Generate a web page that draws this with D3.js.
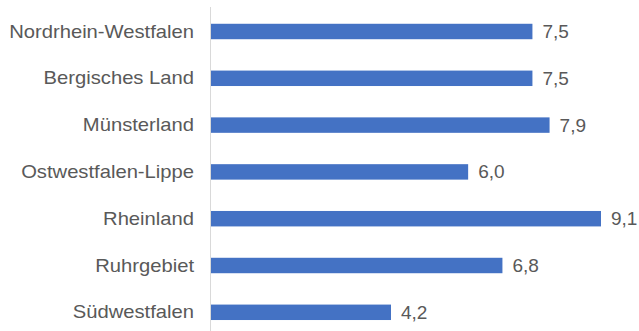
<!DOCTYPE html>
<html>
<head>
<meta charset="utf-8">
<script src="https://cdn.jsdelivr.net/npm/d3@7"></script>
<style>
  html, body { margin: 0; padding: 0; background: #fff; }
  svg { display: block; }
  text { font-family: "Liberation Sans", Arial, sans-serif; fill: #595959; }
</style>
</head>
<body>
<svg id="chart" width="639" height="331"></svg>
<script>
// Regions of North Rhine-Westphalia and their values
const regions = [
  "Nordrhein-Westfalen",
  "Bergisches Land",
  "Münsterland",
  "Ostwestfalen-Lippe",
  "Rheinland",
  "Ruhrgebiet",
  "Südwestfalen"
];
const values = [7.5, 7.5, 7.9, 6.0, 9.1, 6.8, 4.2];
const valueLabels = ["7,5", "7,5", "7,9", "6,0", "9,1", "6,8", "4,2"];

const data = regions.map((r, i) => ({ region: r, value: values[i], label: valueLabels[i] }));

const svg = d3.select("#chart");
const left = 211;

const x = d3.scaleLinear().domain([0, 9.1]).range([left, 601]);
const y = d3.scaleBand().domain(regions).range([8.1, 335.7]).paddingInner(0.67).paddingOuter(0.335);

// category axis line
svg.append("line")
  .attr("x1", left - 0.5).attr("x2", left - 0.5)
  .attr("y1", 7).attr("y2", 331)
  .attr("stroke", "#d9d9d9").attr("stroke-width", 1);

// bars
svg.selectAll("rect.bar").data(data).join("rect")
  .attr("class", "bar")
  .attr("x", x(0))
  .attr("y", d => y(d.region))
  .attr("width", d => x(d.value) - x(0))
  .attr("height", y.bandwidth())
  .attr("fill", "#4472c4");

// category labels
svg.selectAll("text.cat").data(data).join("text")
  .attr("class", "cat")
  .attr("text-anchor", "end")
  .attr("dominant-baseline", "central")
  .attr("font-size", 18.2)
  .attr("transform", d => `translate(194,${y(d.region) + y.bandwidth() / 2}) scale(1.11,1)`)
  .text(d => d.region);

// value labels
svg.selectAll("text.val").data(data).join("text")
  .attr("class", "val")
  .attr("x", d => x(d.value) + 10)
  .attr("y", d => y(d.region) + y.bandwidth() / 2)
  .attr("dominant-baseline", "central")
  .attr("font-size", 19)
  .text(d => d.label);
</script>
</body>
</html>
